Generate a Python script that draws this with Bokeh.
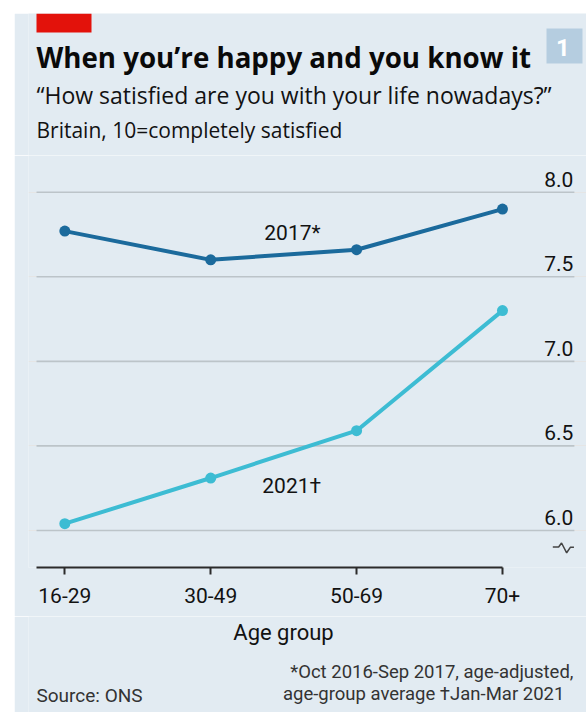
from bokeh.plotting import figure
from bokeh.models import FixedTicker, ColumnDataSource, Range1d, Spacer
from bokeh.layouts import column, row
from bokeh.core.properties import value
from bokeh.embed import file_html
from bokeh.resources import INLINE

# ---- data ----
categories = ["16-29", "30-49", "50-69", "70+"]
sat_2017 = [7.77, 7.60, 7.66, 7.90]
sat_2021 = [6.04, 6.31, 6.59, 7.30]
y_ticks = [6.0, 6.5, 7.0, 7.5, 8.0]
y_tick_labels = ["6.0", "6.5", "7.0", "7.5", "8.0"]

# ---- style ----
BG = "#e2ebf2"
C17 = "#1b6a9c"
C21 = "#3dbcd3"
TXT = "#121212"
FONT = "Roboto"
HFONT = "Open Sans"
W = 572
BL, BR = 14, 0          # left / right border of every frame


def panel_fig(h):
    f = figure(width=W, height=h, x_range=Range1d(BL, W - BR),
               y_range=Range1d(h, 0),
               output_backend="svg", toolbar_location=None,
               x_axis_location=None, y_axis_location=None,
               min_border_left=BL, min_border_right=BR,
               min_border_top=0, min_border_bottom=0,
               background_fill_color=BG, border_fill_color=BG,
               outline_line_color=None)
    f.xgrid.visible = False
    f.ygrid.visible = False
    return f


def txt(f, x, y, s, size, align="left", style="normal", color=TXT, font=FONT):
    f.text(x=[x], y=[y], text=[s], text_align=align, text_baseline="alphabetic",
           text_font=value(font), text_font_size=size, text_font_style=style,
           text_color=color)


# ---- header ----
hdr = panel_fig(142)
hdr.quad(left=[22], right=[77], top=[0], bottom=[19], fill_color="#e3120b",
         line_color=None)
hdr.quad(left=[532], right=[568], top=[15], bottom=[50], fill_color="#b5cde0",
         line_color=None)
txt(hdr, 548.5, 34, "1", "24px", align="center", style="bold", color="white")
txt(hdr, 22, 43, "When you’re happy and you know it", "27.7px", style="bold",
    color="#0a0a0a", font=HFONT)
txt(hdr, 22, 81, "“How satisfied are you with your life nowadays?”", "23px",
    font=HFONT)
txt(hdr, 22, 116, "Britain, 10=completely satisfied", "21px", font=HFONT)

# ---- main chart ----
x = list(range(len(categories)))
X0, X1 = -0.249, 3.576
XA = -0.194                     # left end of the axis line and gridlines
XG = 3.493                      # right end of the gridlines
Y0, Y1 = 5.781, 8.217

p = figure(width=W, height=461,
           x_range=Range1d(X0, X1), y_range=Range1d(Y0, Y1),
           output_backend="svg", toolbar_location=None,
           y_axis_location=None,
           min_border_left=BL, min_border_right=BR,
           min_border_top=0, min_border_bottom=49,
           background_fill_color=BG, border_fill_color=BG,
           outline_line_color=None)
p.xgrid.visible = False

# horizontal gridlines at the y ticks
p.segment(x0=[XA] * len(y_ticks), x1=[XG] * len(y_ticks), y0=y_ticks, y1=y_ticks,
          line_color="#bcc4c9", line_width=1.6)

src = ColumnDataSource(dict(x=x, cat=categories, y17=sat_2017, y21=sat_2021))
p.line("x", "y17", source=src, line_color=C17, line_width=4)
p.scatter("x", "y17", source=src, size=11, fill_color=C17, line_color=None)
p.line("x", "y21", source=src, line_color=C21, line_width=4)
p.scatter("x", "y21", source=src, size=11, fill_color=C21, line_color=None)

# y tick labels inside the plot, above the gridlines
p.text(x=[XG] * len(y_ticks), y=y_ticks, text=y_tick_labels,
       text_align="right", text_baseline="alphabetic",
       x_offset=-1, y_offset=-13,
       text_font=value(FONT), text_font_size="21px", text_color=TXT)

# series labels
p.text(x=[1.56], y=[7.71], text=["2017*"], text_align="center",
       text_baseline="alphabetic", y_offset=-8, text_font=value(FONT),
       text_font_size="21px", text_color=TXT)
p.text(x=[1.555], y=[6.217], text=["2021†"], text_align="center",
       text_baseline="alphabetic", y_offset=-8, text_font=value(FONT),
       text_font_size="21px", text_color=TXT)

# broken-axis squiggle
p.line(x=[3.345, 3.385, 3.405, 3.44, 3.465, 3.49],
       y=[5.902, 5.902, 5.926, 5.868, 5.900, 5.900],
       line_color="#444444", line_width=1.5)

# x axis
xa = p.xaxis[0]
xa.ticker = FixedTicker(ticks=x)
xa.major_label_overrides = {i: c for i, c in enumerate(categories)}
xa.bounds = (XA, 3)
xa.axis_line_width = 2
xa.axis_line_color = "#2b2b2b"
xa.major_tick_in = 0
xa.major_tick_out = 7
xa.major_tick_line_width = 2
xa.major_tick_line_color = "#2b2b2b"
xa.minor_tick_line_color = None
xa.major_label_text_font = FONT
xa.major_label_text_font_size = "21px"
xa.major_label_text_color = TXT
xa.major_label_standoff = 13

# ---- footer (axis title + notes) ----
ftr = panel_fig(96)
txt(ftr, 269, 16, "Age group", "22px", align="center")
txt(ftr, 22, 79, "Source: ONS", "19px", color="#333333")
txt(ftr, 559, 55, "*Oct 2016-Sep 2017, age-adjusted,", "18.5px", align="right",
    color="#333333")
txt(ftr, 559, 77, "age-group average   †Jan-Mar 2021", "18.5px", align="right",
    color="#333333")

layout = row(Spacer(width=14), column(Spacer(height=13), hdr, p, ftr))

open("out.html", "w").write(file_html(layout, INLINE))
